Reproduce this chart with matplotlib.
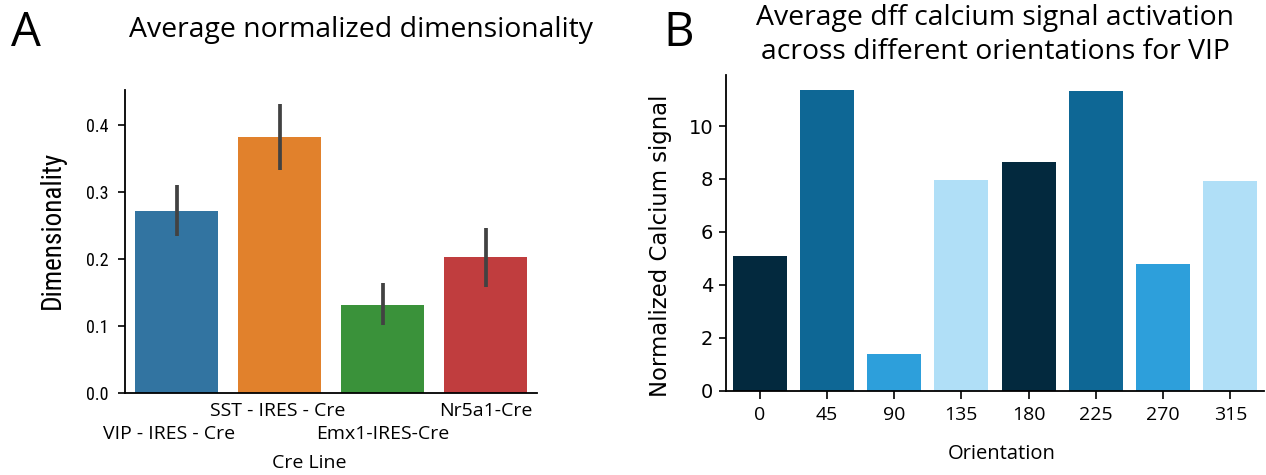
import matplotlib
matplotlib.use("Agg")
import matplotlib.pyplot as plt
import matplotlib.transforms as mtransforms
import numpy as np

# ---- data: panel A ----
cre_lines = ["VIP - IRES - Cre", "SST - IRES - Cre", "Emx1-IRES-Cre", "Nr5a1-Cre"]
dim_mean = [0.272, 0.382, 0.131, 0.203]
dim_ci_low = [0.234, 0.333, 0.102, 0.158]
dim_ci_high = [0.311, 0.432, 0.164, 0.247]
cre_colors = ["#3274a1", "#e1812c", "#3a923a", "#c03d3e"]

# ---- data: panel B ----
orientations = ["0", "45", "90", "135", "180", "225", "270", "315"]
calcium = [5.10, 11.36, 1.37, 7.96, 8.64, 11.33, 4.77, 7.92]
ori_colors = ["#03293e", "#0e6795", "#2d9fdb", "#b0dff7",
              "#03293e", "#0e6795", "#2d9fdb", "#b0dff7"]

FONT = ["Open Sans", "DejaVu Sans"]
NARROW = ["Roboto Condensed", "Open Sans", "DejaVu Sans"]
plt.rcParams["font.family"] = FONT

W, H = 1266, 475
fig = plt.figure(figsize=(W / 100, H / 100), dpi=100)

def ax_rect(x0, y0, x1, y1):
    return [x0 / W, 1 - y1 / H, (x1 - x0) / W, (y1 - y0) / H]

# ---------------- Panel A ----------------
axA = fig.add_axes(ax_rect(125, 89.5, 537, 393.3))
xa = np.arange(len(cre_lines))
axA.bar(xa, dim_mean, width=0.8, color=cre_colors, zorder=2)
for i in range(len(xa)):
    axA.plot([xa[i], xa[i]], [dim_ci_low[i], dim_ci_high[i]],
             color="#424242", lw=2.7, solid_capstyle="butt", zorder=3)
axA.set_xlim(-0.5, 3.5)
axA.set_ylim(0, 0.453)
axA.set_yticks([0.0, 0.1, 0.2, 0.3, 0.4])
axA.set_yticklabels(["0.0", "0.1", "0.2", "0.3", "0.4"], family=NARROW, fontsize=13)
axA.set_xticks(xa)
axA.set_xticklabels([])
axA.tick_params(axis="x", length=0)
axA.tick_params(axis="y", length=5, width=1.2, pad=7)
for s in ["top", "right"]:
    axA.spines[s].set_visible(False)
for s in ["left", "bottom"]:
    axA.spines[s].set_linewidth(1.3)

# staggered category labels (two rows)
base = mtransforms.blended_transform_factory(axA.transData, axA.transAxes)
x_shift = [-7, -2, 0, 0]
for i, lab in enumerate(cre_lines):
    dy = -41 if i % 2 == 0 else -17.5
    tr = base + mtransforms.ScaledTranslation(x_shift[i] / 100, dy / 100,
                                              fig.dpi_scale_trans)
    axA.text(xa[i], 0, lab, transform=tr, ha="center", va="center",
             fontsize=14)

fig.text(52 / W, 1 - 230 / H, "Dimensionality", rotation=90, ha="center",
         va="center", fontsize=19.5, family=NARROW)
fig.text(309 / W, 1 - 463 / H, "Cre Line", ha="center", va="center",
         fontsize=14)
fig.text(361 / W, 1 - 30 / H, "Average normalized dimensionality",
         ha="center", va="center", fontsize=20.4)
fig.text(26 / W, 1 - 33 / H, "A", ha="center", va="center", fontsize=34)

# ---------------- Panel B ----------------
axB = fig.add_axes(ax_rect(726, 75, 1264, 390.5))
xb = np.arange(len(orientations))
axB.bar(xb, calcium, width=0.8, color=ori_colors, zorder=2)
axB.set_xlim(-0.5, 7.5)
axB.set_ylim(0, 11.93)
axB.set_yticks([0, 2, 4, 6, 8, 10])
axB.set_yticklabels(["0", "2", "4", "6", "8", "10"], fontsize=14,
                    family=["DejaVu Sans"])
axB.set_xticks(xb)
axB.set_xticklabels(orientations, fontsize=14)
axB.tick_params(axis="x", length=5.8, width=1.2, pad=5)
axB.tick_params(axis="y", length=5, width=1.2, pad=4)
for s in ["top", "right"]:
    axB.spines[s].set_visible(False)
for s in ["left", "bottom"]:
    axB.spines[s].set_linewidth(1.3)
fig.text(660 / W, 1 - 246 / H, "Normalized Calcium signal", rotation=90,
         ha="center", va="center", fontsize=16.4, family=["DejaVu Sans"])
fig.text(1002 / W, 1 - 454 / H, "Orientation", ha="center", va="center",
         fontsize=14.5)
fig.text(995 / W, 1 - 35 / H,
         "Average dff calcium signal activation\nacross different orientations for VIP",
         ha="center", va="center", fontsize=20.4, linespacing=1.32)
fig.text(679 / W, 1 - 33 / H, "B", ha="center", va="center", fontsize=34)

fig.savefig("out.png", dpi=100)
